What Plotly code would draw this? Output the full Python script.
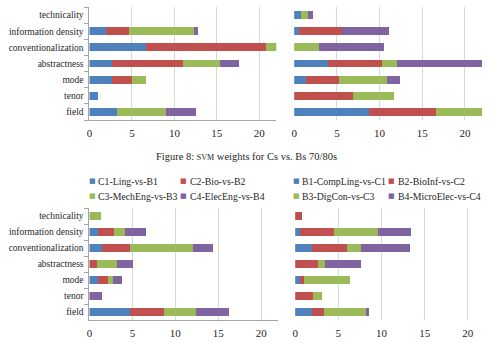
import plotly.graph_objects as go

# ---------------- data ----------------
categories = ["technicality", "information density", "conventionalization",
              "abstractness", "mode", "tenor", "field"]

c_names = ["C1-Ling-vs-B1", "C2-Bio-vs-B2", "C3-MechEng-vs-B3", "C4-ElecEng-vs-B4"]
b_names = ["B1-CompLing-vs-C1", "B2-BioInf-vs-C2", "B3-DigCon-vs-C3", "B4-MicroElec-vs-C4"]

# top-left panel (C series, previous figure)
top_c1 = [0, 1.9, 6.7, 2.7, 2.6, 1.0, 3.25]
top_c2 = [0, 2.8, 14.1, 8.35, 2.4, 0, 0]
top_c3 = [0, 7.6, 1.3, 4.3, 1.7, 0, 5.75]
top_c4 = [0, 0.5, 0, 2.25, 0, 0, 3.6]

# top-right panel (B series, previous figure)
top_b1 = [0.8, 0.6, 0, 4.0, 1.4, 0, 8.75]
top_b2 = [0, 5.0, 0, 6.3, 3.9, 6.85, 7.9]
top_b3 = [0.85, 0, 2.95, 1.75, 5.55, 4.85, 5.6]
top_b4 = [0.5, 5.5, 7.55, 10.2, 1.55, 0, 0]

# bottom-left panel (C series, Figure 8)
bot_c1 = [0, 1.05, 1.45, 0, 1.0, 0, 4.75]
bot_c2 = [0, 1.85, 3.25, 0.9, 1.15, 0, 3.9]
bot_c3 = [1.35, 1.2, 7.4, 2.35, 0.6, 0, 3.75]
bot_c4 = [0, 2.5, 2.3, 1.85, 1.0, 1.5, 3.8]

# bottom-right panel (B series, Figure 8)
bot_b1 = [0, 0.5, 2.0, 0, 0.5, 0, 1.9]
bot_b2 = [0.8, 4.0, 4.0, 2.65, 0.55, 2.1, 1.4]
bot_b3 = [0, 5.1, 1.6, 0.85, 5.25, 0.95, 4.85]
bot_b4 = [0, 3.8, 5.75, 4.1, 0, 0, 0.45]

x_ticks = [0, 5, 10, 15, 20]
caption = "Figure 8: <span style='font-size:8px'>SVM</span> weights for Cs vs. Bs 70/80s"

colors = ["#4F81BD", "#C0504D", "#9BBB59", "#8064A2"]

# ---------------- figure ----------------
W, H = 490, 343
FONT = "Liberation Serif"
TXT = "#262626"

def px_x(p):
    return p / W

def px_y(p):
    return 1 - p / H

fig = go.Figure()

panels = [
    ("x", "y", [top_c1, top_c2, top_c3, top_c4], c_names),
    ("x2", "y2", [top_b1, top_b2, top_b3, top_b4], b_names),
    ("x3", "y3", [bot_c1, bot_c2, bot_c3, bot_c4], c_names),
    ("x4", "y4", [bot_b1, bot_b2, bot_b3, bot_b4], b_names),
]

for xa, ya, series, names in panels:
    for vals, name, col in zip(series, names, colors):
        fig.add_trace(go.Bar(
            x=vals, y=categories, orientation="h", name=name,
            marker=dict(color=col, line=dict(width=0)),
            xaxis=xa, yaxis=ya, showlegend=False,
        ))

domains = {
    1: dict(x=[px_x(87), px_x(275)], y=[px_y(120), px_y(7)]),
    2: dict(x=[px_x(293), px_x(482)], y=[px_y(120), px_y(7)]),
    3: dict(x=[px_x(87), px_x(277)], y=[px_y(320), px_y(208)]),
    4: dict(x=[px_x(294), px_x(485)], y=[px_y(320), px_y(208)]),
}

layout = dict(
    width=W, height=H,
    margin=dict(l=0, r=0, t=0, b=0),
    paper_bgcolor="white", plot_bgcolor="white",
    barmode="stack", bargap=0.52,
    font=dict(family=FONT, size=10, color=TXT),
)

for i in range(1, 5):
    xk = "xaxis" if i == 1 else f"xaxis{i}"
    yk = "yaxis" if i == 1 else f"yaxis{i}"
    left = i in (1, 3)
    layout[xk] = dict(
        domain=domains[i]["x"], anchor="y" if i == 1 else f"y{i}",
        range=[0, 22], tickvals=x_ticks, ticktext=[str(v) for v in x_ticks],
        showgrid=True, gridcolor="#D9D9D9", gridwidth=1,
        zeroline=True, zerolinecolor="white", zerolinewidth=1,
        showline=left, linecolor="#A6A6A6", linewidth=1,
        ticks="outside", ticklen=3, tickcolor="rgba(0,0,0,0)",
        tickfont=dict(family=FONT, size=11, color=TXT),
        fixedrange=True,
    )
    layout[yk] = dict(
        domain=domains[i]["y"], anchor="x" if i == 1 else f"x{i}",
        type="category", categoryorder="array",
        categoryarray=categories[::-1],
        showticklabels=left, showline=left, linecolor="#A6A6A6", linewidth=1,
        ticks="outside" if left else "", ticklen=4, tickcolor="#A6A6A6",
        tickson="boundaries", showgrid=False, zeroline=False,
        ticklabelstandoff=3,
        tickfont=dict(family=FONT, size=9.5, color=TXT),
        fixedrange=True,
    )

fig.update_layout(**layout)

annotations = [
    dict(text=caption, x=px_x(245), y=px_y(156), xref="paper", yref="paper",
         showarrow=False, xanchor="center", yanchor="middle",
         font=dict(family=FONT, size=10.5, color=TXT)),
]

legend_pos = [
    (c_names[0], colors[0], 90, 181), (c_names[1], colors[1], 182, 181),
    (c_names[2], colors[2], 90, 196), (c_names[3], colors[3], 182, 196),
    (b_names[0], colors[0], 295, 181), (b_names[1], colors[1], 391, 181),
    (b_names[2], colors[2], 295, 196), (b_names[3], colors[3], 391, 196),
]
for name, col, mx, my in legend_pos:
    annotations.append(dict(
        text="■", x=px_x(mx), y=px_y(my), xref="paper", yref="paper",
        showarrow=False, xanchor="center", yanchor="middle",
        font=dict(family="DejaVu Sans", size=7, color=col)))
    annotations.append(dict(
        text=name, x=px_x(mx + 4), y=px_y(my), xref="paper", yref="paper",
        showarrow=False, xanchor="left", yanchor="middle",
        font=dict(family=FONT, size=9.8, color=TXT)))

fig.update_layout(annotations=annotations)

fig.write_html("out.html")
